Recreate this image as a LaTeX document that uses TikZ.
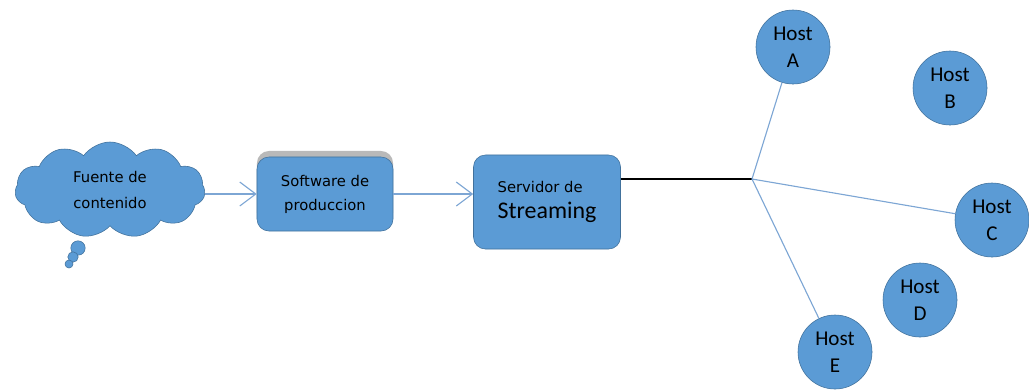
\documentclass[tikz,border=0pt]{standalone}
\usepackage{fontspec}
\setmainfont{Carlito}
\newfontfamily\tahoma{DejaVu Sans}
\usetikzlibrary{positioning,shapes.symbols,shadows,arrows.meta}

\definecolor{fillblue}{RGB}{91,155,213}
\definecolor{edgeblue}{RGB}{65,113,156}
\definecolor{lineblue}{RGB}{125,166,212}

\begin{document}
\begin{tikzpicture}[x=0.025cm, y=-0.025cm, >={Straight Barb[length=4mm,width=6mm]},
                blue node/.style={fill=fillblue, draw=edgeblue, thin},
                box node/.style={blue node, rectangle, rounded corners=0.3cm},
                host node/.style={blue node, circle, minimum size=1.85cm, inner sep=0pt,
                  align=center, font=\fontsize{15}{19}\selectfont},
                link/.style={draw=lineblue, thick}]

  \useasboundingbox (0,0) rectangle (1029,390);

  % source and boxes
  \node[blue node, cloud, cloud puffs=11, cloud puff arc=110, aspect=2,
        minimum width=4.75cm, minimum height=2.4cm, align=center,
        font=\tahoma\fontsize{10.5}{18}\selectfont] (1) at (110,190) {Fuente de\\contenido};
  \node[blue node, circle, minimum size=0.36cm, inner sep=0pt] (t1) at (78,248) {};
  \node[blue node, circle, minimum size=0.26cm, inner sep=0pt] (t2) at (73,257) {};
  \node[blue node, circle, minimum size=0.2cm, inner sep=0pt] (t3) at (69,264) {};

  \node[box node, minimum width=3.4cm, minimum height=1.85cm, align=center,
        drop shadow={shadow xshift=0cm, shadow yshift=0.15cm, fill=gray!55, opacity=1},
        font=\tahoma\fontsize{10.5}{17}\selectfont] (2) at (325,194) {Software de\\produccion};
  \node[box node, minimum width=3.675cm, minimum height=2.35cm, align=left] (3) at (547,202)
        {{\tahoma\fontsize{10.5}{13}\selectfont Servidor de}\\[6pt]{\fontsize{17}{20}\selectfont Streaming}};

  % hosts
  \coordinate (hub) at (752,179);
  \node[host node] (A) at (793,47) {Host\\A};
  \node[host node] (B) at (950,88) {Host\\B};
  \node[host node] (C) at (992,220) {Host\\C};
  \node[host node] (D) at (920,300) {Host\\D};
  \node[host node] (E) at (835,352) {Host\\E};

  \path
    (1.east |- 2.east) edge [link, ->] (2.west)
    (2.east) edge [link, ->] (3.west |- 2.east);
  \draw[black, thick] (hub -| 3.east) -- (hub);
  \path
    (hub) edge [link] (A)
          edge [link] (C)
          edge [link] (E);
\end{tikzpicture}
\end{document}
